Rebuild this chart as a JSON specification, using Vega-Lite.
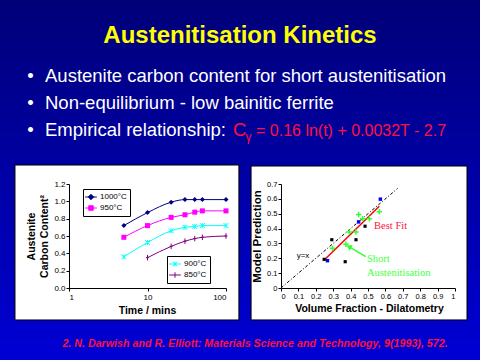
{
  "$schema": "https://vega.github.io/schema/vega-lite/v6.json",
  "padding": 0,
  "background": "#0000a8",
  "columns": 3,
  "align": "each",
  "bounds": "flush",
  "spacing": {"row": 0, "column": 55},
  "config": {
    "view": {"stroke": null},
    "axis": {"domainColor": "black", "tickColor": "black", "labelColor": "black", "titleColor": "black", "grid": false, "labelFont": "Liberation Sans", "labelFontSize": 8, "tickSize": 3, "labelPadding": 1, "titleFont": "Liberation Sans", "titleFontWeight": "bold", "domainWidth": 1},
    "legend": {"orient": "none", "title": null, "fillColor": "white", "strokeColor": "black", "padding": 3, "rowPadding": 1, "labelFont": "Liberation Sans", "labelFontSize": 8, "labelColor": "black", "labelOffset": 4, "symbolSize": 81, "symbolStrokeWidth": 1, "symbolOpacity": 1}
  },
  "concat": [
    {
      "width": 14, "height": 184,
      "encoding": {
        "x": {"field": "x", "type": "quantitative", "scale": {"domain": [0, 14], "nice": false, "zero": false}, "axis": null},
        "y": {"field": "y", "type": "quantitative", "scale": {"domain": [0, 184], "nice": false, "zero": false, "reverse": true}, "axis": null}
      },
      "layer": [
        {"data": {"values": [{"x": 0, "x2": 480, "y": 0, "y2": 360}]},
         "mark": {"type": "rect", "clip": false, "fill": {"gradient": "linear", "x1": 0, "y1": 0, "x2": 0, "y2": 1, "stops": [{"offset": 0, "color": "#000078"}, {"offset": 1, "color": "#0000d4"}]}},
         "encoding": {"x2": {"field": "x2"}, "y2": {"field": "y2"}}},
        {"data": {"values": [{"x": 240, "y": 43, "text": "Austenitisation Kinetics"}]},
         "mark": {"type": "text", "font": "Liberation Sans", "fontSize": 24, "fontWeight": "bold", "color": "#ffff00", "align": "center", "baseline": "alphabetic"},
         "encoding": {"text": {"field": "text"}}},
        {"data": {"values": [
          {"x": 45, "y": 82, "text": "Austenite carbon content for short austenitisation"},
          {"x": 45, "y": 109, "text": "Non-equilibrium - low bainitic ferrite"},
          {"x": 45, "y": 136, "text": "Empirical relationship:"}]},
         "mark": {"type": "text", "font": "Liberation Sans", "fontSize": 18.5, "color": "white", "align": "left", "baseline": "alphabetic"},
         "encoding": {"text": {"field": "text"}}},
        {"data": {"values": [{"x": 30.5, "y": 82, "text": "•"}, {"x": 30.5, "y": 109, "text": "•"}, {"x": 30.5, "y": 136, "text": "•"}]},
         "mark": {"type": "text", "font": "Liberation Sans", "fontSize": 18.5, "color": "white", "align": "center", "baseline": "alphabetic"},
         "encoding": {"text": {"field": "text"}}},
        {"data": {"values": [{"x": 233, "y": 136, "text": "C"}]},
         "mark": {"type": "text", "font": "Liberation Sans", "fontSize": 18.5, "color": "#ff1040", "align": "left", "baseline": "alphabetic"},
         "encoding": {"text": {"field": "text"}}},
        {"data": {"values": [{"x": 245.5, "y": 141, "text": "γ"}]},
         "mark": {"type": "text", "font": "Liberation Sans", "fontSize": 12, "color": "#ff1040", "align": "left", "baseline": "alphabetic"},
         "encoding": {"text": {"field": "text"}}},
        {"data": {"values": [{"x": 256, "y": 136, "text": "= 0.16 ln(t) + 0.0032T - 2.7"}]},
         "mark": {"type": "text", "font": "Liberation Sans", "fontSize": 16, "color": "#ff1040", "align": "left", "baseline": "alphabetic"},
         "encoding": {"text": {"field": "text"}}}
      ]
    },
    {"width": 157, "height": 184, "data": {"values": [{"a": 0}]}, "mark": {"type": "point", "opacity": 0}, "encoding": {}},
    {"width": 174, "height": 184, "data": {"values": [{"a": 0}]}, "mark": {"type": "point", "opacity": 0}, "encoding": {}},
    {"width": 14, "height": 104, "data": {"values": [{"a": 0}]}, "mark": {"type": "point", "opacity": 0}, "encoding": {}},
    {
      "width": 157, "height": 104,
      "encoding": {
        "x": {"field": "t", "type": "quantitative", "scale": {"type": "log", "domain": [1, 100], "nice": false},
              "axis": {"zindex": 1, "values": [1, 10, 100], "format": "d", "title": "Time / mins", "titleFontSize": 10.5, "titleX": 78, "titleY": 25, "titleBaseline": "alphabetic", "titleAlign": "center", "labelPadding": 2}},
        "y": {"field": "c", "type": "quantitative", "scale": {"domain": [0, 1.2], "nice": false, "zero": false},
              "axis": {"zindex": 1, "values": [0, 0.2, 0.4, 0.6, 0.8, 1, 1.2], "format": ".1f", "title": ["Austenite", "Carbon Content²"], "titleFontSize": 10.5, "titleX": -37.5, "titleY": 52, "titleAngle": 270, "titleAlign": "center", "titleBaseline": "middle", "titleLineHeight": 13}}
      },
      "layer": [
        {"data": {"values": [{"t": 0.205, "t2": 146, "c": 1.419, "c2": -0.369}]},
         "mark": {"type": "rect", "fill": "white", "stroke": "black", "strokeWidth": 1, "clip": false},
         "encoding": {"x2": {"field": "t2"}, "y2": {"field": "c2"}}},
        {
          "data": {"values": [
            {"series": "1000°C", "t": 5, "c": 0.72}, {"series": "1000°C", "t": 10, "c": 0.87}, {"series": "1000°C", "t": 20, "c": 0.99}, {"series": "1000°C", "t": 30, "c": 1.02}, {"series": "1000°C", "t": 40, "c": 1.02}, {"series": "1000°C", "t": 50, "c": 1.02}, {"series": "1000°C", "t": 100, "c": 1.02},
            {"series": "950°C", "t": 5, "c": 0.585}, {"series": "950°C", "t": 10, "c": 0.72}, {"series": "950°C", "t": 20, "c": 0.815}, {"series": "950°C", "t": 30, "c": 0.845}, {"series": "950°C", "t": 40, "c": 0.875}, {"series": "950°C", "t": 50, "c": 0.89}, {"series": "950°C", "t": 100, "c": 0.89},
            {"series": "900°C", "t": 5, "c": 0.36}, {"series": "900°C", "t": 10, "c": 0.525}, {"series": "900°C", "t": 20, "c": 0.66}, {"series": "900°C", "t": 30, "c": 0.70}, {"series": "900°C", "t": 40, "c": 0.71}, {"series": "900°C", "t": 50, "c": 0.72}, {"series": "900°C", "t": 100, "c": 0.72},
            {"series": "850°C", "t": 10, "c": 0.35}, {"series": "850°C", "t": 20, "c": 0.48}, {"series": "850°C", "t": 30, "c": 0.54}, {"series": "850°C", "t": 40, "c": 0.57}, {"series": "850°C", "t": 50, "c": 0.585}, {"series": "850°C", "t": 100, "c": 0.60}
          ]},
          "layer": [
            {"mark": {"type": "line", "interpolate": "monotone", "strokeWidth": 1},
             "encoding": {"color": {"field": "series", "type": "nominal", "scale": {"domain": ["1000°C", "950°C", "900°C", "850°C"], "range": ["#000080", "#ff00ff", "#00ffff", "#800080"]}, "legend": null}}},
            {"transform": [{"filter": "datum.series === '1000°C' || datum.series === '950°C'"}],
             "mark": {"type": "point", "filled": true, "size": 25, "opacity": 1},
             "encoding": {"color": {"field": "series", "type": "nominal", "scale": {"domain": ["1000°C", "950°C", "900°C", "850°C"], "range": ["#000080", "#ff00ff", "#00ffff", "#800080"]}, "legend": null},
               "shape": {"field": "series", "type": "nominal", "scale": {"domain": ["1000°C", "950°C", "900°C", "850°C"], "range": ["diamond", "square", "M-1,-1L1,1M-1,1L1,-1M0,-1V1", "M0,-1.1V1.1M-0.6,0H0.6"]}, "legend": null}}},
            {"transform": [{"filter": "datum.series === '900°C' || datum.series === '850°C'"}],
             "mark": {"type": "point", "filled": false, "size": 25, "opacity": 1, "strokeWidth": 1},
             "encoding": {"color": {"field": "series", "type": "nominal", "scale": {"domain": ["1000°C", "950°C", "900°C", "850°C"], "range": ["#000080", "#ff00ff", "#00ffff", "#800080"]}, "legend": null},
               "shape": {"field": "series", "type": "nominal", "scale": {"domain": ["1000°C", "950°C", "900°C", "850°C"], "range": ["diamond", "square", "M-1,-1L1,1M-1,1L1,-1M0,-1V1", "M0,-1.1V1.1M-0.6,0H0.6"]}, "legend": null}}}
          ]
        },
        {
          "data": {"values": []},
          "mark": {"type": "point", "filled": true, "size": 81, "opacity": 1, "strokeWidth": 1},
          "encoding": {
            "shape": {"field": "series", "type": "nominal", "scale": {"domain": ["1000°C", "950°C"], "range": ["M-1.3,0H1.3M0,-0.6L0.6,0L0,0.6L-0.6,0Z", "M-1.3,0H1.3M-0.5,-0.5H0.5V0.5H-0.5Z"]}, "legend": {"legendX": 14, "legendY": 5}},
            "fill": {"field": "series", "type": "nominal", "scale": {"domain": ["1000°C", "950°C"], "range": ["#000080", "#ff00ff"]}, "legend": {"legendX": 14, "legendY": 5}},
            "stroke": {"field": "series", "type": "nominal", "scale": {"domain": ["1000°C", "950°C"], "range": ["#000080", "#ff00ff"]}, "legend": {"legendX": 14, "legendY": 5}}
          }
        },
        {
          "data": {"values": []},
          "mark": {"type": "point", "filled": true, "size": 81, "opacity": 1, "strokeWidth": 1},
          "encoding": {
            "shape": {"field": "series", "type": "nominal", "scale": {"domain": ["900°C", "850°C"], "range": ["M-1.3,0H1.3M-0.5,-0.5L0.5,0.5M-0.5,0.5L0.5,-0.5M0,-0.55V0.55", "M-1.3,0H1.3M0,-0.6V0.6"]}, "legend": {"legendX": 98, "legendY": 72}},
            "fill": {"field": "series", "type": "nominal", "scale": {"domain": ["900°C", "850°C"], "range": ["transparent", "transparent"]}, "legend": {"legendX": 98, "legendY": 72}},
            "stroke": {"field": "series", "type": "nominal", "scale": {"domain": ["900°C", "850°C"], "range": ["#00ffff", "#800080"]}, "legend": {"legendX": 98, "legendY": 72}}
          }
        }
      ],
      "resolve": {"scale": {"shape": "independent", "fill": "independent", "stroke": "independent"}, "legend": {"shape": "independent", "fill": "independent", "stroke": "independent"}}
    },
    {
      "width": 174, "height": 104,
      "encoding": {
        "x": {"field": "vf", "type": "quantitative", "scale": {"domain": [0, 1], "nice": false, "zero": false},
              "axis": {"zindex": 1, "values": [0, 0.1, 0.2, 0.3, 0.4, 0.5, 0.6, 0.7, 0.8, 0.9, 1], "format": ".1~f", "labelFontSize": 7.5, "title": "Volume Fraction - Dilatometry", "titleFontSize": 10.5, "titleX": 88, "titleY": 23, "titleBaseline": "alphabetic", "titleAlign": "center", "labelPadding": 1}},
        "y": {"field": "mp", "type": "quantitative", "scale": {"domain": [0, 0.7], "nice": false, "zero": false},
              "axis": {"zindex": 1, "values": [0, 0.1, 0.2, 0.3, 0.4, 0.5, 0.6, 0.7], "format": ".1~f", "labelFontSize": 7.5, "title": "Model Prediction", "titleFontSize": 11.5, "titleX": -24, "titleY": 52, "titleAngle": 270, "titleAlign": "center", "titleBaseline": "middle"}}
      },
      "layer": [
        {"data": {"values": [{"vf": -0.172, "vf2": 1.069, "mp": 0.821, "mp2": -0.215}]},
         "mark": {"type": "rect", "fill": "white", "stroke": "black", "strokeWidth": 1, "clip": false},
         "encoding": {"x2": {"field": "vf2"}, "y2": {"field": "mp2"}}},
        {"data": {"values": [{"vf": 0, "mp": 0}, {"vf": 0.67, "mp": 0.67}]},
         "mark": {"type": "line", "color": "black", "strokeWidth": 1, "strokeDash": [3, 2, 1, 2]}, "encoding": {}},
        {"data": {"values": [{"vf": 0.25, "mp": 0.19}, {"vf": 0.565, "mp": 0.55}]},
         "mark": {"type": "line", "color": "#ff0000", "strokeWidth": 1.5}, "encoding": {}},
        {"data": {"values": [{"vf": 0.296, "mp": 0.268}, {"vf": 0.373, "mp": 0.295}, {"vf": 0.392, "mp": 0.377}, {"vf": 0.431, "mp": 0.377}, {"vf": 0.446, "mp": 0.495}, {"vf": 0.469, "mp": 0.466}, {"vf": 0.508, "mp": 0.466}, {"vf": 0.565, "mp": 0.514}]},
         "mark": {"type": "point", "shape": "M-1,0H1M0,-1V1", "filled": false, "size": 30, "color": "#33ff33", "strokeWidth": 1.5, "opacity": 1}, "encoding": {}},
        {"data": {"values": [{"vf": 0.267, "mp": 0.184}, {"vf": 0.446, "mp": 0.445}, {"vf": 0.571, "mp": 0.598}]},
         "mark": {"type": "point", "shape": "square", "filled": true, "size": 12, "color": "#0000ff", "opacity": 1}, "encoding": {}},
        {"data": {"values": [{"vf": 0.248, "mp": 0.193}, {"vf": 0.292, "mp": 0.325}, {"vf": 0.369, "mp": 0.177}, {"vf": 0.431, "mp": 0.325}, {"vf": 0.483, "mp": 0.416}]},
         "mark": {"type": "point", "shape": "square", "filled": true, "size": 10, "color": "#000000", "opacity": 1}, "encoding": {}},
        {"data": {"values": [{"vf": 0.487, "mp": 0.211, "vf2": 0.395, "mp2": 0.275}]},
         "mark": {"type": "rule", "color": "#33ff33", "strokeWidth": 1.5}, "encoding": {"x2": {"field": "vf2"}, "y2": {"field": "mp2"}}},
        {"data": {"values": [{"vf": 0.39, "mp": 0.278}]},
         "mark": {"type": "point", "shape": "triangle-up", "filled": true, "size": 40, "angle": 300, "color": "#33ff33", "opacity": 1}, "encoding": {}},
        {"data": {"values": [{"vf": 0.09, "mp": 0.215, "label": "y=x"}]},
         "mark": {"type": "text", "font": "Liberation Sans", "fontSize": 8, "color": "black", "align": "left", "baseline": "middle"}, "encoding": {"text": {"field": "label"}}},
        {"data": {"values": [{"vf": 0.535, "mp": 0.42, "label": "Best Fit"}]},
         "mark": {"type": "text", "font": "Liberation Serif", "fontSize": 10.5, "color": "#ff1144", "align": "left", "baseline": "middle"}, "encoding": {"text": {"field": "label"}}},
        {"data": {"values": [{"vf": 0.494, "mp": 0.196, "label": "Short"}, {"vf": 0.494, "mp": 0.1, "label": "Austenitisation"}]},
         "mark": {"type": "text", "font": "Liberation Serif", "fontSize": 10.5, "color": "#44ff44", "align": "left", "baseline": "middle"}, "encoding": {"text": {"field": "label"}}}
      ]
    },
    {
      "width": 14, "height": 72,
      "data": {"values": [{"x": 255, "y": 58.7, "text": "2. N. Darwish and R. Elliott: Materials Science and Technology, 9(1993), 572."}]},
      "mark": {"type": "text", "font": "Liberation Sans", "fontSize": 10.7, "fontStyle": "italic", "fontWeight": "bold", "color": "#ff1040", "align": "center", "baseline": "alphabetic"},
      "encoding": {
        "x": {"field": "x", "type": "quantitative", "scale": {"domain": [0, 14], "nice": false, "zero": false}, "axis": null},
        "y": {"field": "y", "type": "quantitative", "scale": {"domain": [0, 72], "nice": false, "zero": false, "reverse": true}, "axis": null},
        "text": {"field": "text"}
      }
    },
    {"width": 157, "height": 72, "data": {"values": [{"a": 0}]}, "mark": {"type": "point", "opacity": 0}, "encoding": {}},
    {"width": 174, "height": 72, "data": {"values": [{"a": 0}]}, "mark": {"type": "point", "opacity": 0}, "encoding": {}}
  ]
}
